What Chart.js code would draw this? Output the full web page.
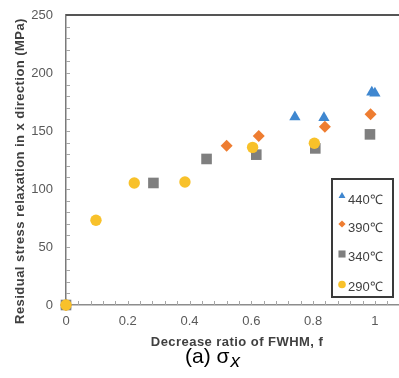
<!DOCTYPE html>
<html>
<head>
<meta charset="utf-8">
<script src="https://cdn.jsdelivr.net/npm/chart.js@4"></script>
<style>
  body { margin: 0; background: #fff; }
  #wrap { position: relative; width: 399px; height: 378px; overflow: hidden; }
  #caption { position: absolute; left: 185px; top: 344px; font: 21px "Liberation Sans", Arial, sans-serif; color: #000; white-space: nowrap; }
  #caption i { font-size: 19px; position: relative; top: 4px; margin-left: 1px; }
</style>
</head>
<body>
<div id="wrap">
  <canvas id="chart" width="399" height="378"></canvas>
  <div id="caption">(a) σ<i>x</i></div>
</div>
<script>
const FONT = '"Liberation Sans", Arial, sans-serif';

// series
const labels = ['440℃', '390℃', '340℃', '290℃'];
const x440 = [0, 0.741, 0.835, 0.99, 1.0];
const y440 = [0, 162, 161.5, 183.5, 182.5];
const x390 = [0, 0.52, 0.624, 0.838, 0.986];
const y390 = [0, 137.3, 145.7, 153.7, 164.4];
const x340 = [0, 0.283, 0.455, 0.616, 0.807, 0.984];
const y340 = [0, 105.2, 125.9, 129.6, 135, 147.1];
const x290 = [0, 0.097, 0.221, 0.385, 0.604, 0.804];
const y290 = [0, 73, 105.2, 106, 135.9, 139.4];

const xTicks = [0, 0.2, 0.4, 0.6, 0.8, 1];
const yTicks = [0, 50, 100, 150, 200, 250];

const xTitle = 'Decrease ratio of FWHM, f';
const yTitle = 'Residual stress relaxation in x direction (MPa)';

const colors = ['#3f87d0', '#ee7d31', '#7f7f7f', '#f8c12a'];
const styles = ['triangle', 'rectRot', 'rect', 'circle'];
const radii = [6.5, 6, 7.5, 5.7];
const legendRadii = [4, 3.6, 5, 3.8];

const pts = (xs, ys) => xs.map((x, i) => ({ x, y: ys[i] }));
const series = [pts(x440, y440), pts(x390, y390), pts(x340, y340), pts(x290, y290)];

const datasets = series.map((data, i) => ({
  label: labels[i],
  data,
  pointStyle: styles[i],
  pointRadius: radii[i],
  pointHoverRadius: radii[i],
  backgroundColor: colors[i],
  borderColor: colors[i],
  borderWidth: 0,
  clip: false,
  order: 4 - i
}));

const decor = {
  id: 'decor',
  beforeDatasetsDraw(chart) {
    const { ctx, chartArea: a, scales: { x, y } } = chart;
    ctx.save();
    // inward minor ticks
    ctx.strokeStyle = '#a6a6a6';
    ctx.lineWidth = 1;
    ctx.beginPath();
    for (let v = 0.04; v < x.max; v += 0.04) {
      const px = Math.round(x.getPixelForValue(v)) + 0.5;
      ctx.moveTo(px, a.bottom);
      ctx.lineTo(px, a.bottom - 4);
    }
    for (let v = 10; v < y.max; v += 10) {
      const py = Math.round(y.getPixelForValue(v)) + 0.5;
      ctx.moveTo(a.left, py);
      ctx.lineTo(a.left + 4, py);
    }
    ctx.stroke();
    // top frame line
    ctx.strokeStyle = '#555';
    ctx.lineWidth = 2;
    ctx.beginPath();
    ctx.moveTo(a.left, a.top);
    ctx.lineTo(a.right, a.top);
    ctx.stroke();
    // axis titles
    ctx.fillStyle = '#404040';
    ctx.font = 'bold 13px ' + FONT;
    ctx.letterSpacing = '0.45px';
    ctx.textAlign = 'center';
    ctx.textBaseline = 'middle';
    ctx.fillText(xTitle, 237, 342);
    ctx.translate(20, 171);
    ctx.rotate(-Math.PI / 2);
    ctx.fillText(yTitle, 0, 0);
    ctx.restore();
  },
  afterDraw(chart) {
    const { ctx } = chart;
    ctx.save();
    ctx.fillStyle = '#fff';
    ctx.fillRect(332, 179, 61, 118);
    ctx.strokeStyle = '#3a3a3a';
    ctx.lineWidth = 2;
    ctx.strokeRect(332, 179, 61, 118);
    const rows = [200, 228.5, 257, 287];
    const mk = [196, 224, 254, 284.5];
    chart.data.datasets.forEach((ds, i) => {
      ctx.fillStyle = ds.backgroundColor;
      Chart.helpers.drawPoint(ctx, { pointStyle: ds.pointStyle, radius: legendRadii[i], rotation: 0, borderWidth: 0 }, 342, mk[i]);
      ctx.fillStyle = '#404040';
      ctx.font = '13px ' + FONT;
      ctx.textBaseline = 'middle';
      ctx.fillText(ds.label, 348, rows[i]);
    });
    ctx.restore();
  }
};

const noPad = s => { s.paddingLeft = 0; s.paddingRight = 0; s.paddingTop = 0; s.paddingBottom = 0; };

new Chart(document.getElementById('chart'), {
  type: 'scatter',
  data: { datasets },
  plugins: [decor],
  options: {
    responsive: false,
    animation: false,
    layout: { autoPadding: false, padding: { top: 15, right: 0, bottom: 26, left: 0 } },
    plugins: { legend: { display: false }, tooltip: { enabled: false } },
    scales: {
      x: {
        type: 'linear', min: 0, max: 1.078,
        afterBuildTicks: s => { s.ticks = xTicks.map(v => ({ value: v })); },
        afterFit: s => { s.height = 47; noPad(s); },
        border: { color: '#8c8c8c', width: 1.5 },
        grid: { drawOnChartArea: false, drawTicks: false },
        ticks: { padding: 9, color: '#595959', font: { size: 13, family: FONT }, callback: v => String(v) }
      },
      y: {
        min: 0, max: 250,
        afterBuildTicks: s => { s.ticks = yTicks.map(v => ({ value: v })); },
        afterFit: s => { s.width = 66; noPad(s); },
        border: { color: '#7a7a7a', width: 1.5 },
        grid: { drawOnChartArea: false, drawTicks: false },
        ticks: { padding: 13, color: '#595959', font: { size: 13, family: FONT } }
      }
    }
  }
});
</script>
</body>
</html>
